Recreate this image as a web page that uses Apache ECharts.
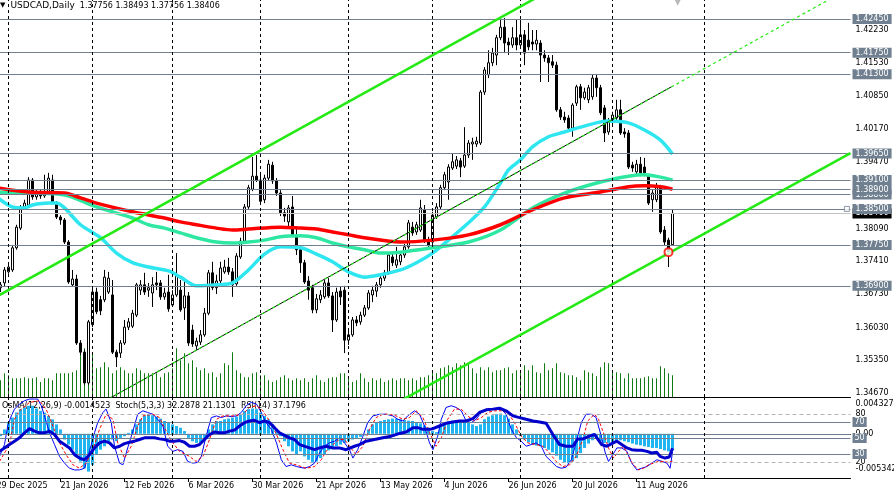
<!DOCTYPE html>
<html>
<head>
<meta charset="utf-8">
<script src="https://cdn.jsdelivr.net/npm/echarts@6/dist/echarts.min.js"></script>
<style>
  html, body { margin: 0; padding: 0; background: #fff; }
  #chart { width: 894px; height: 496px; }
</style>
</head>
<body>
<div id="chart"></div>
<script>
const FONT = 'DejaVu Sans';
const LEVEL = '#708090';
const SLOTS = 214; // daily slots incl. empty future area

// x axis labels, one every 16 trading days starting 29 Dec 2025
const dateLabels = ['29 Dec 2025', '21 Jan 2026', '12 Feb 2026', '6 Mar 2026', '30 Mar 2026', '21 Apr 2026',
  '13 May 2026', '4 Jun 2026', '26 Jun 2026', '20 Jul 2026', '11 Aug 2026'];
// first trading day of each month (slot index)
const monthStarts = [3, 24, 44, 66, 88, 109, 131, 154, 177];

// [open, close, low, high]
const candles = [
  [1.3681,1.3686,1.3675,1.3694],[1.3686,1.3692,1.3677,1.3698],[1.3696,1.3723,1.3688,1.3729],[1.3719,1.3729,1.3715,1.3735],
  [1.3723,1.3769,1.3719,1.3775],[1.3769,1.3812,1.3765,1.3817],[1.3810,1.3854,1.3806,1.3858],[1.3854,1.3862,1.3848,1.3869],
  [1.3858,1.3910,1.3854,1.3916],[1.3910,1.3875,1.3869,1.3914],[1.3875,1.3881,1.3869,1.3889],[1.3881,1.3877,1.3871,1.3889],
  [1.3877,1.3883,1.3873,1.3921],[1.3883,1.3914,1.3879,1.3925],[1.3910,1.3864,1.3860,1.3921],[1.3862,1.3833,1.3829,1.3866],
  [1.3833,1.3827,1.3817,1.3837],[1.3827,1.3781,1.3777,1.3831],[1.3781,1.3698,1.3694,1.3785],[1.3692,1.3704,1.3688,1.3723],
  [1.3704,1.3571,1.3567,1.3713],[1.3571,1.3552,1.3546,1.3577],[1.3552,1.3488,1.3484,1.3557],[1.3488,1.3615,1.3484,1.3619],
  [1.3609,1.3677,1.3604,1.3686],[1.3677,1.3636,1.3631,1.3686],[1.3661,1.3638,1.3629,1.3669],[1.3661,1.3708,1.3656,1.3723],
  [1.3677,1.3706,1.3673,1.3719],[1.3671,1.3552,1.3548,1.3702],[1.3552,1.3542,1.3521,1.3557],[1.3550,1.3571,1.3540,1.3577],
  [1.3571,1.3604,1.3567,1.3619],[1.3604,1.3615,1.3598,1.3623],[1.3606,1.3633,1.3602,1.3640],[1.3629,1.3692,1.3625,1.3696],
  [1.3681,1.3692,1.3671,1.3702],[1.3692,1.3677,1.3671,1.3717],[1.3681,1.3686,1.3667,1.3696],[1.3675,1.3692,1.3646,1.3708],
  [1.3696,1.3692,1.3681,1.3719],[1.3696,1.3667,1.3661,1.3702],[1.3667,1.3675,1.3661,1.3686],[1.3677,1.3642,1.3636,1.3713],
  [1.3650,1.3671,1.3646,1.3681],[1.3671,1.3713,1.3667,1.3758],[1.3681,1.3640,1.3636,1.3702],[1.3644,1.3669,1.3619,1.3706],
  [1.3669,1.3571,1.3565,1.3677],[1.3598,1.3569,1.3563,1.3609],[1.3565,1.3575,1.3557,1.3582],[1.3573,1.3588,1.3567,1.3598],
  [1.3588,1.3633,1.3584,1.3644],[1.3633,1.3717,1.3629,1.3723],[1.3717,1.3686,1.3681,1.3740],[1.3686,1.3700,1.3673,1.3713],
  [1.3700,1.3727,1.3694,1.3740],[1.3719,1.3729,1.3715,1.3744],[1.3729,1.3719,1.3713,1.3748],[1.3719,1.3692,1.3667,1.3727],
  [1.3694,1.3752,1.3690,1.3758],[1.3750,1.3783,1.3746,1.3790],[1.3783,1.3854,1.3779,1.3860],[1.3854,1.3894,1.3850,1.3900],
  [1.3891,1.3918,1.3887,1.3958],[1.3918,1.3910,1.3906,1.3962],[1.3910,1.3866,1.3860,1.3927],[1.3869,1.3914,1.3862,1.3921],
  [1.3914,1.3943,1.3910,1.3952],[1.3941,1.3908,1.3902,1.3948],[1.3908,1.3883,1.3877,1.3914],[1.3883,1.3842,1.3835,1.3889],
  [1.3842,1.3835,1.3823,1.3852],[1.3823,1.3852,1.3814,1.3858],[1.3854,1.3796,1.3792,1.3877],[1.3792,1.3765,1.3754,1.3814],
  [1.3765,1.3738,1.3717,1.3771],[1.3738,1.3698,1.3694,1.3744],[1.3700,1.3681,1.3661,1.3710],[1.3686,1.3640,1.3633,1.3692],
  [1.3640,1.3663,1.3633,1.3673],[1.3661,1.3671,1.3654,1.3681],[1.3667,1.3696,1.3663,1.3702],[1.3696,1.3669,1.3665,1.3706],
  [1.3669,1.3619,1.3594,1.3677],[1.3619,1.3677,1.3615,1.3686],[1.3679,1.3667,1.3650,1.3688],[1.3681,1.3577,1.3550,1.3690],
  [1.3577,1.3588,1.3567,1.3598],[1.3588,1.3619,1.3584,1.3625],[1.3619,1.3613,1.3606,1.3627],[1.3615,1.3629,1.3609,1.3636],
  [1.3629,1.3644,1.3625,1.3650],[1.3644,1.3675,1.3640,1.3681],[1.3671,1.3681,1.3656,1.3690],[1.3679,1.3692,1.3667,1.3698],
  [1.3692,1.3706,1.3686,1.3713],[1.3706,1.3717,1.3700,1.3723],[1.3717,1.3754,1.3713,1.3760],[1.3750,1.3738,1.3731,1.3758],
  [1.3733,1.3744,1.3727,1.3771],[1.3740,1.3754,1.3733,1.3762],[1.3754,1.3771,1.3748,1.3777],[1.3771,1.3821,1.3767,1.3827],
  [1.3812,1.3800,1.3794,1.3823],[1.3802,1.3817,1.3796,1.3823],[1.3806,1.3852,1.3802,1.3869],[1.3848,1.3785,1.3779,1.3858],
  [1.3785,1.3775,1.3769,1.3792],[1.3781,1.3837,1.3777,1.3844],[1.3833,1.3854,1.3829,1.3862],[1.3854,1.3894,1.3848,1.3900],
  [1.3894,1.3921,1.3889,1.3927],[1.3906,1.3937,1.3869,1.3943],[1.3935,1.3948,1.3931,1.3966],[1.3939,1.3952,1.3933,1.3960],
  [1.3950,1.3937,1.3916,1.3956],[1.3939,1.3962,1.3935,1.4020],[1.3962,1.3987,1.3956,1.3993],[1.3985,1.3989,1.3952,1.3998],
  [1.3985,1.3991,1.3979,1.4000],[1.3987,1.4093,1.3983,1.4097],[1.4093,1.4139,1.4087,1.4145],[1.4129,1.4154,1.4122,1.4180],
  [1.4154,1.4174,1.4147,1.4185],[1.4170,1.4206,1.4149,1.4212],[1.4206,1.4228,1.4201,1.4243],[1.4228,1.4195,1.4174,1.4247],
  [1.4197,1.4191,1.4170,1.4206],[1.4191,1.4206,1.4185,1.4228],[1.4206,1.4191,1.4180,1.4243],[1.4191,1.4212,1.4185,1.4243],
  [1.4212,1.4174,1.4149,1.4222],[1.4201,1.4187,1.4180,1.4237],[1.4197,1.4193,1.4180,1.4222],[1.4193,1.4201,1.4180,1.4222],
  [1.4195,1.4170,1.4114,1.4201],[1.4170,1.4164,1.4156,1.4180],[1.4164,1.4154,1.4114,1.4170],[1.4156,1.4149,1.4143,1.4170],
  [1.4149,1.4056,1.4052,1.4156],[1.4056,1.4041,1.4035,1.4062],[1.4041,1.4035,1.4029,1.4052],[1.4039,1.4018,1.4010,1.4045],
  [1.4018,1.4066,1.4000,1.4070],[1.4070,1.4104,1.4064,1.4108],[1.4104,1.4081,1.4056,1.4110],[1.4081,1.4093,1.4077,1.4102],
  [1.4077,1.4102,1.4070,1.4108],[1.4083,1.4122,1.4077,1.4129],[1.4122,1.4102,1.4083,1.4129],[1.4102,1.4050,1.4045,1.4108],
  [1.4060,1.4008,1.3989,1.4066],[1.4010,1.4031,1.4004,1.4039],[1.4031,1.4045,1.4025,1.4052],[1.4039,1.4056,1.4035,1.4077],
  [1.4056,1.4008,1.4004,1.4077],[1.4010,1.4006,1.3998,1.4018],[1.4008,1.3937,1.3933,1.4014],[1.3941,1.3935,1.3927,1.3948],
  [1.3927,1.3943,1.3918,1.3952],[1.3943,1.3925,1.3918,1.3958],[1.3937,1.3925,1.3918,1.3956],[1.3918,1.3862,1.3858,1.3923],
  [1.3869,1.3883,1.3844,1.3889],[1.3869,1.3896,1.3864,1.3904],[1.3894,1.3802,1.3798,1.3900],[1.3806,1.3781,1.3775,1.3814],
  [1.3785,1.3760,1.3729,1.3790],[1.37756,1.38406,1.37756,1.38493]
];

// tick volume, arbitrary units
const volumes = [18,17,24,22,19,19,19,20,19,19,20,15,19,19,17,24,24,24,24,25,27,45,49,45,44,29,30,35,30,24,
  27,30,27,24,24,29,27,24,24,24,24,20,24,25,29,49,37,44,34,37,30,27,29,24,25,20,24,34,32,45,
  27,24,20,20,24,25,22,22,17,15,17,20,22,19,17,19,17,19,15,19,22,17,15,19,20,20,24,24,20,15,
  17,24,19,15,19,17,19,15,17,19,17,19,19,17,19,17,20,20,22,27,24,29,30,32,30,34,32,35,34,29,
  24,30,27,30,25,27,27,29,30,24,27,25,32,27,32,25,24,34,27,29,34,25,24,22,22,20,17,27,25,24,
  21,30,35,34,27,25,24,19,24,19,19,19,20,21,19,19,31,29,24,22];

// moving averages read at [slot, price]
const maCyan = [[0,1.3875],[4,1.3854],[7,1.3852],[9,1.3858],[13,1.3862],[15,1.3862],[17,1.3852],[21,1.3817],[26,1.3790],
  [30,1.3758],[34,1.3738],[38,1.3729],[43,1.3721],[46,1.3708],[50,1.3690],[55,1.3692],[59,1.3696],[63,1.3723],[67,1.3756],
  [71,1.3771],[76,1.3769],[80,1.3756],[84,1.3740],[88,1.3719],[92,1.3708],[96,1.3713],[101,1.3723],[105,1.3738],[109,1.3758],
  [113,1.3785],[118,1.3821],[122,1.3854],[126,1.3904],[128,1.3931],[131,1.3952],[134,1.3979],[138,1.4000],[142,1.4010],
  [146,1.4020],[151,1.4031],[153,1.4033],[158,1.4029],[162,1.4014],[166,1.3993],[169,1.3964]];
const maGreen = [[0,1.3885],[8,1.3883],[17,1.3879],[25,1.3854],[34,1.3831],[38,1.3817],[42,1.3810],[46,1.3800],[50,1.3790],
  [55,1.3781],[59,1.3779],[63,1.3781],[67,1.3785],[71,1.3792],[76,1.3794],[80,1.3790],[84,1.3779],[88,1.3771],[92,1.3765],
  [96,1.3758],[101,1.3760],[109,1.3769],[118,1.3781],[126,1.3806],[134,1.3852],[142,1.3883],[151,1.3906],[158,1.3918],
  [162,1.3921],[166,1.3916],[169,1.3910]];
const maRed = [[0,1.3894],[8,1.3885],[17,1.3883],[21,1.3873],[25,1.3862],[34,1.3844],[42,1.3831],[46,1.3823],[50,1.3817],
  [55,1.3810],[59,1.3806],[63,1.3808],[71,1.3812],[76,1.3810],[80,1.3808],[84,1.3802],[88,1.3796],[92,1.3790],[101,1.3781],
  [109,1.3785],[118,1.3796],[126,1.3817],[134,1.3848],[142,1.3873],[151,1.3885],[158,1.3896],[162,1.3898],[166,1.3896],[169,1.3891]];

// drawn objects
const levels = [1.4245, 1.4175, 1.4130, 1.3965, 1.3910, 1.3880, 1.3890, 1.3850, 1.3775, 1.3690];
const bidPrice = 1.38406;
const upperChannel = [[-0.5, 1.3665], [136, 1.4294]];
const lowerChannel = [[100, 1.3446], [213.5, 1.3966]];
const midLine = [[27, 1.3450], [168.75, 1.4104]];
const midLineExt = [[27, 1.3450], [210, 1.4294]];
const alertMark = [[168, 1.3760]];
const priceAlert = [[212.6, 1.3850]];
const shiftMark = [[170.3, 1.4281]];
const priceTicks = [1.4223, 1.4153, 1.4085, 1.4017, 1.3947, 1.3877, 1.3809, 1.3741, 1.3673, 1.3603, 1.3535, 1.3467];

// oscillators
const osma = [-0.00029,-0.00029,0.00053,0.00135,0.00196,0.00257,0.00298,0.00318,0.00339,0.00339,0.00306,0.00277,0.00257,
  0.00216,0.00175,0.00114,0.00053,-0.00069,-0.00131,-0.00192,-0.00253,-0.00335,-0.00416,-0.00457,-0.00375,-0.00253,
  -0.00192,-0.00151,-0.00090,-0.00069,-0.00090,-0.00049,-0.00029,0.00012,0.00053,0.00114,0.00175,0.00216,0.00237,
  0.00224,0.00208,0.00184,0.00155,0.00135,0.00114,0.00094,0.00073,0.00033,-0.00049,-0.00090,-0.00110,-0.00110,-0.00069,
  0.00053,0.00114,0.00155,0.00155,0.00175,0.00184,0.00196,0.00208,0.00237,0.00277,0.00298,0.00306,0.00298,0.00257,
  0.00216,0.00175,0.00114,0.00053,-0.00029,-0.00090,-0.00151,-0.00212,-0.00253,-0.00212,-0.00273,-0.00314,-0.00355,
  -0.00335,-0.00294,-0.00253,-0.00200,-0.00171,-0.00151,-0.00131,-0.00110,-0.00090,-0.00069,-0.00049,-0.00037,-0.00020,
  0.00053,0.00114,0.00143,0.00155,0.00167,0.00175,0.00184,0.00184,0.00175,0.00167,0.00159,0.00155,0.00143,0.00126,
  0.00102,0.00073,0.00033,0.00020,0.00094,0.00135,0.00151,0.00159,0.00167,0.00159,0.00151,0.00135,0.00114,0.00094,
  0.00114,0.00175,0.00208,0.00224,0.00237,0.00245,0.00224,0.00184,0.00114,0.00053,-0.00029,-0.00069,-0.00102,-0.00131,
  -0.00143,-0.00151,-0.00171,-0.00192,-0.00224,-0.00265,-0.00314,-0.00347,-0.00355,-0.00335,-0.00294,-0.00233,-0.00171,
  -0.00118,-0.00078,-0.00037,-0.00090,-0.00110,-0.00110,-0.00102,-0.00090,-0.00078,-0.00090,-0.00102,-0.00118,-0.00131,
  -0.00139,-0.00151,-0.00159,-0.00171,-0.00171,-0.00184,-0.00200,-0.00212,-0.00200];

const stochMain = [[0.75,27.0],[2,41.8],[2.8,65.0],[3.7,77.6],[4.5,86.1],[5.75,92.4],[7,96.6],[8.25,98.7],[9.5,98.7],
  [10.3,98.7],[11.2,90.3],[12,77.6],[13.25,56.5],[14.5,41.8],[15.75,27.0],[17,18.6],[18.25,12.2],[19.5,10.1],[20.75,10.1],
  [22,12.2],[23.25,33.3],[24.5,56.5],[25.3,69.2],[26.6,81.9],[27.4,86.1],[28.7,69.2],[29.5,39.7],[30.75,18.6],[31.6,16.5],
  [32.8,37.6],[34.1,58.6],[35.3,79.7],[36.6,84.0],[37.8,81.9],[39.1,79.7],[40.3,73.4],[41.6,65.0],[42.8,39.7],[44.1,33.3],
  [45.3,35.4],[46.6,33.3],[47.8,20.7],[49.1,18.6],[50.3,19.4],[51.2,27.0],[52.4,52.3],[53.7,75.5],[55,77.6],[56.2,75.5],
  [57.4,77.6],[58.7,76.8],[60,77.6],[61.2,81.9],[62.4,90.3],[63.7,94.5],[65,92.4],[66.2,81.9],[67.4,69.2],[68.7,60.8],
  [70,43.9],[71.2,22.8],[72.4,14.3],[73.7,16.5],[75,14.3],[77,12.2],[78.25,14.3],[79.5,18.6],[80.75,31.2],[82,39.7],
  [83.25,43.9],[84.5,46.0],[85.75,50.2],[87,43.9],[88.25,35.4],[89.1,24.9],[90.3,35.4],[91.6,52.3],[92.8,69.2],[94.1,77.6],
  [95.75,79.7],[97.4,79.7],[99.1,77.6],[100.3,73.4],[101.6,71.3],[102.8,77.6],[104.5,84.0],[105.75,79.7],[107,65.0],
  [108.25,43.9],[109.1,35.4],[110.3,52.3],[111.2,73.4],[112.4,88.2],[113.7,90.3],[114.9,88.2],[116.2,84.0],[117.4,71.3],
  [118.7,69.2],[119.9,73.4],[121.2,81.9],[122.4,84.0],[123.7,86.1],[124.9,86.9],[126.2,86.1],[127.4,79.7],[128.7,60.8],
  [130,50.2],[131.2,46.0],[132.4,39.7],[133.7,41.8],[134.9,43.9],[136.2,39.7],[137.4,27.0],[138.7,20.7],[140,14.3],
  [141.2,12.2],[142.4,13.5],[143.7,22.8],[144.9,43.9],[146.2,69.2],[147.4,79.7],[148.7,79.7],[149.9,75.5],[151.3,50.2],
  [152.2,31.2],[153,20.7],[153.8,27.0],[155.1,37.6],[156.3,37.6],[157.6,33.3],[158.8,18.6],[160.1,10.1],[161.3,12.2],
  [162.6,14.3],[163.8,18.6],[165.1,22.8],[166.4,20.7],[167.6,18.6],[168.4,12.2],[169,32.29]];
const stochSignal = [[0.75,20.7],[3.25,41.8],[4.5,73.4],[5.75,84.0],[8.25,94.5],[10.75,96.6],[12.4,86.1],[14.1,65.0],
  [15.75,43.9],[17.4,29.1],[19.1,16.5],[20.75,12.2],[22.4,18.6],[24.1,35.4],[25.75,60.8],[27.4,79.7],[29.1,73.4],[30.3,43.9],
  [32,24.9],[33.7,39.7],[35.3,65.0],[36.6,77.6],[39.1,79.7],[40.75,75.5],[42.4,58.6],[44.1,43.9],[45.75,33.3],[48.25,27.0],
  [49.9,20.7],[51.6,27.0],[53.25,48.1],[55,73.4],[56.6,77.6],[59.1,77.6],[61.6,79.7],[63.25,88.2],[65,90.3],[66.6,84.0],
  [68.25,71.3],[70,54.4],[71.6,35.4],[73.25,18.6],[74.9,16.5],[77.4,12.2],[79.5,14.3],[81.2,22.8],[82.4,33.3],[84.1,41.8],
  [85.75,48.1],[87,48.1],[88.25,39.7],[89.9,29.1],[91.6,39.7],[93.25,60.8],[94.9,75.5],[96.6,79.7],[98.25,79.7],[99.9,77.6],
  [101.6,73.4],[103.25,75.5],[104.9,84.0],[106.6,75.5],[108.25,56.5],[109.9,39.7],[111.2,50.2],[112.8,73.4],[114.5,86.1],
  [116.2,86.1],[117.8,77.6],[119.5,71.3],[121.2,75.5],[122.8,81.9],[124.5,84.0],[126.2,84.0],[127.8,81.9],[129.5,69.2],
  [131.2,52.3],[132.8,43.9],[134.9,41.8],[136.6,39.7],[138.25,31.2],[139.9,20.7],[141.6,14.3],[143.25,16.5],[144.9,27.0],
  [146.6,48.1],[147.8,71.3],[149.5,79.7],[150.5,73.4],[151.75,56.5],[153,37.6],[154.25,24.9],[155.5,33.3],[156.75,39.7],
  [158,27.0],[159.25,16.5],[160.5,10.1],[161.75,12.2],[163,16.5],[164.25,18.6],[165.5,20.7],[166.75,20.7],[168,19.4],[169,21.13]];
const rsi = [[0.75,33.3],[2,37.6],[3.25,41.8],[4.5,46.0],[5.75,50.2],[7,56.5],[8.25,61.6],[9.5,58.6],[10.75,56.5],[12,56.5],
  [13.25,58.6],[14.5,54.4],[15.75,46.0],[17,41.8],[18.25,37.6],[19.5,29.1],[20.75,24.9],[22,22.8],[23.25,29.1],[24.5,37.6],
  [25.75,43.9],[27,46.0],[28.25,43.9],[29.5,37.6],[30.75,39.7],[32,43.0],[33.25,44.7],[34.5,46.0],[35.75,48.1],[37,50.2],
  [38.25,50.2],[39.5,50.2],[40.75,48.9],[42,48.1],[43.25,46.0],[44.5,46.0],[45.75,46.8],[47,44.7],[48.25,39.7],[49.5,39.7],
  [50.75,41.8],[52,48.1],[53.25,54.4],[54.5,57.4],[55.75,56.5],[57,56.5],[58.25,58.6],[59.5,59.9],[60.75,65.0],[62,69.2],
  [63.25,71.3],[64.5,72.2],[65.75,69.2],[67,71.3],[68.25,69.2],[69.5,62.9],[70.75,56.5],[72,53.2],[73.25,50.2],[74.5,48.1],
  [75.75,41.8],[78.25,37.6],[79.5,35.4],[80.75,37.6],[82.4,39.7],[84.1,37.6],[85.75,37.6],[87.4,35.4],[89.5,39.7],
  [90.75,41.8],[92.4,46.0],[94.5,48.1],[96.6,50.2],[98.7,52.3],[100.75,55.7],[102.4,57.4],[104.1,62.9],[105.3,62.9],
  [106.6,60.8],[108.25,60.8],[109.1,61.6],[110.75,65.0],[112.4,68.4],[114.1,70.0],[115.75,71.3],[117.4,71.3],[119.1,74.3],
  [120.75,81.9],[122.4,85.2],[124.1,86.1],[125.75,87.3],[127.4,84.0],[129.1,77.6],[130.75,75.5],[132.4,73.4],[134.1,71.3],
  [135.75,70.0],[137.4,68.4],[139.1,54.4],[140.75,41.8],[142.4,39.7],[144.1,39.7],[145.3,48.9],[146.6,48.9],[148.25,52.3],
  [149.5,54.4],[150.1,50.2],[151.3,41.8],[152.6,39.7],[153.8,43.0],[155.1,46.0],[156.3,41.8],[157.6,37.6],[158.8,35.4],
  [160.1,34.6],[161.3,34.6],[162.6,33.3],[163.8,31.2],[165.1,32.1],[165.9,27.0],[167.1,24.9],[168.2,26.2],[169,37.18]];
const oscLevels = [80, 70, 50, 30, 20];
const osmaTicks = [0.0043278, 0, -0.005342];

const slots = Array.from({ length: SLOTS }, (_, i) => String(i));
const last = candles[candles.length - 1];
const header = [last[0], last[3], last[2], last[1]].map(v => v.toFixed(5)).join(' ');
const txt = { fontFamily: FONT, fontSize: 8, color: '#000' };

const chart = echarts.init(document.getElementById('chart'));

const monthLines = monthStarts.map(k => ({
  xAxis: k, lineStyle: { color: '#000', type: [3, 3], width: 1 }, label: { show: false }
}));

chart.setOption({
  animation: false,
  backgroundColor: '#fff',
  textStyle: { fontFamily: FONT },
  title: [{
    left: 0, top: 1, padding: 0, z: 1,
    text: '{t|▼}  {n|USDCAD,Daily}  ' + header,
    textStyle: Object.assign({}, txt, { fontWeight: 'normal', rich: { t: { fontSize: 7 }, n: { fontSize: 9 } } })
  }, {
    left: 2, top: 402, padding: 0, z: 1,
    text: 'OsMA(12,26,9) -0.0014523  Stoch(5,3,3) 32.2878 21.1301  RSI(14) 37.1796',
    textStyle: Object.assign({}, txt, { fontWeight: 'normal' })
  }],
  grid: [
    { left: -5.5, top: 0, width: 856, height: 397, containLabel: false, outerBoundsMode: 'none' },
    { left: -5.5, top: 398, width: 856, height: 80, containLabel: false, outerBoundsMode: 'none' }
  ],
  xAxis: [
    { type: 'category', gridIndex: 0, data: slots, boundaryGap: true,
      axisLine: { show: true, lineStyle: { color: '#000' } }, axisTick: { show: false }, axisLabel: { show: false } },
    { type: 'value', gridIndex: 0, min: -0.5, max: SLOTS - 0.5, show: false },
    { type: 'category', gridIndex: 1, data: slots, boundaryGap: true,
      axisLine: { show: true, lineStyle: { color: '#000' } },
      axisTick: { show: true, alignWithLabel: true, length: 4, lineStyle: { color: '#000' },
        interval: i => i % 16 === 0 && i / 16 < dateLabels.length },
      axisLabel: Object.assign({}, txt, { interval: i => i % 16 === 0, align: 'left', margin: 4,
        formatter: (v, i) => dateLabels[i / 16] || '' }) },
    { type: 'value', gridIndex: 1, min: -0.5, max: SLOTS - 0.5, position: 'top',
      axisLine: { show: true, lineStyle: { color: '#000' } }, axisTick: { show: false },
      axisLabel: { show: false }, splitLine: { show: false } }
  ],
  yAxis: [
    { type: 'value', gridIndex: 0, position: 'right', min: 1.34587, max: 1.42845,
      axisLine: { show: true, lineStyle: { color: '#000' } },
      axisTick: { show: true, length: 3, customValues: priceTicks, lineStyle: { color: '#000' } },
      axisLabel: Object.assign({}, txt, { customValues: priceTicks, margin: 5, formatter: v => v.toFixed(5) }),
      splitLine: { show: false } },
    { type: 'value', gridIndex: 0, min: 0, max: 400, show: false },
    { type: 'value', gridIndex: 1, position: 'right', min: 0, max: 100,
      axisLine: { show: true, lineStyle: { color: '#000' } },
      axisTick: { show: true, length: 3, customValues: [80, 20], lineStyle: { color: '#000' } },
      axisLabel: Object.assign({}, txt, { customValues: [80, 20], margin: 5 }),
      splitLine: { show: false } },
    { type: 'value', gridIndex: 1, position: 'right', min: -0.005342, max: 0.0043278,
      axisLine: { show: false }, axisTick: { show: false }, splitLine: { show: false },
      axisLabel: Object.assign({}, txt, { customValues: osmaTicks, margin: 5,
        formatter: v => v > 0 ? '{top|' + v.toFixed(7) + '}' : (v < 0 ? '{bot|' + v.toFixed(6) + '}' : '0.00'),
        rich: { top: { padding: [12, 0, 0, 0] }, bot: { padding: [0, 0, 18, 0] } } }) }
  ],
  series: [
    { name: 'Volume', type: 'bar', xAxisIndex: 0, yAxisIndex: 1, data: volumes, barWidth: 1,
      itemStyle: { color: '#127a12' }, silent: true, z: 1 },
    { name: 'USDCAD', type: 'candlestick', xAxisIndex: 0, yAxisIndex: 0, data: candles, barWidth: 3, silent: true, z: 3,
      itemStyle: { color: '#fff', color0: '#000', borderColor: '#000', borderColor0: '#000', borderWidth: 1 },
      markLine: {
        symbol: ['none', 'none'], silent: true, precision: 5,
        lineStyle: { color: LEVEL, width: 1, type: 'solid' },
        label: Object.assign({}, txt, { position: 'end', distance: 2, color: '#fff', backgroundColor: LEVEL,
          padding: [1, 3, 0, 3], lineHeight: 9, formatter: p => Number(p.value).toFixed(5) }),
        data: levels.slice(0, 7).map(v => ({ yAxis: v }))
          .concat([{ yAxis: bidPrice, lineStyle: { color: '#c4c4c4', width: 1 }, label: { backgroundColor: '#000' } }])
          .concat(levels.slice(7).map(v => ({ yAxis: v })))
      } },
    { name: 'MA cyan', type: 'line', xAxisIndex: 1, yAxisIndex: 0, data: maCyan, smooth: 0.3, showSymbol: false,
      lineStyle: { color: '#2ee6f0', width: 3.5 }, silent: true, z: 4 },
    { name: 'MA green', type: 'line', xAxisIndex: 1, yAxisIndex: 0, data: maGreen, smooth: 0.3, showSymbol: false,
      lineStyle: { color: '#2ee8a2', width: 3.5 }, silent: true, z: 4 },
    { name: 'MA red', type: 'line', xAxisIndex: 1, yAxisIndex: 0, data: maRed, smooth: 0.3, showSymbol: false,
      lineStyle: { color: '#ff0000', width: 3.5 }, silent: true, z: 4 },
    { name: 'Upper channel', type: 'line', xAxisIndex: 1, yAxisIndex: 0, data: upperChannel, showSymbol: false,
      lineStyle: { color: '#22ea12', width: 2.5 }, silent: true, z: 5 },
    { name: 'Lower channel', type: 'line', xAxisIndex: 1, yAxisIndex: 0, data: lowerChannel, showSymbol: false,
      lineStyle: { color: '#22ea12', width: 2.5 }, silent: true, z: 5 },
    { name: 'Mid line', type: 'line', xAxisIndex: 1, yAxisIndex: 0, data: midLine, showSymbol: false,
      lineStyle: { color: '#000', width: 1 }, silent: true, z: 5,
      markLine: { symbol: ['none', 'none'], silent: true, data: monthLines } },
    { name: 'Mid line ext', type: 'line', xAxisIndex: 1, yAxisIndex: 0, data: midLineExt, showSymbol: false,
      lineStyle: { color: '#22ea12', width: 1.2, type: [3, 3] }, silent: true, z: 5 },
    { name: 'Alert', type: 'scatter', xAxisIndex: 1, yAxisIndex: 0, data: alertMark, symbol: 'emptyCircle', symbolSize: 8,
      itemStyle: { color: '#ff0000', borderWidth: 1 }, silent: true, z: 6 },
    { name: 'Price alert', type: 'scatter', xAxisIndex: 1, yAxisIndex: 0, data: priceAlert, symbol: 'rect', symbolSize: 5,
      itemStyle: { color: '#fff', borderColor: LEVEL, borderWidth: 1 }, silent: true, z: 6 },
    { name: 'Shift', type: 'scatter', xAxisIndex: 1, yAxisIndex: 0, data: shiftMark, symbol: 'triangle', symbolRotate: 180,
      symbolSize: 8, itemStyle: { color: '#a8a8a8' }, silent: true, z: 6 },
    { name: 'OsMA', type: 'bar', xAxisIndex: 2, yAxisIndex: 3, data: osma, barWidth: 3,
      itemStyle: { color: '#20b4f0' }, silent: true, z: 2,
      markLine: { symbol: ['none', 'none'], silent: true, label: { show: false },
        lineStyle: { color: LEVEL, width: 1, type: 'solid' }, data: [{ yAxis: 0 }] } },
    { name: 'Stoch', type: 'line', xAxisIndex: 3, yAxisIndex: 2, data: stochMain, showSymbol: false,
      lineStyle: { color: '#0000ff', width: 1 }, silent: true, z: 4,
      markLine: {
        symbol: ['none', 'none'], silent: true,
        label: Object.assign({}, txt, { position: 'end', distance: 2, color: '#fff', backgroundColor: LEVEL,
          padding: [1, 2, 0, 2], lineHeight: 9, formatter: p => String(p.value) }),
        data: oscLevels.map(v => (v === 80 || v === 20)
          ? { yAxis: v, lineStyle: { color: '#b4b4b4', width: 1, type: [4, 3] }, label: { show: false } }
          : { yAxis: v, lineStyle: { color: LEVEL, width: 1, type: 'solid' } }).concat(monthLines)
      } },
    { name: 'Signal', type: 'line', xAxisIndex: 3, yAxisIndex: 2, data: stochSignal, showSymbol: false,
      lineStyle: { color: '#ff0000', width: 1, type: [3, 2] }, silent: true, z: 4 },
    { name: 'RSI', type: 'line', xAxisIndex: 3, yAxisIndex: 2, data: rsi, showSymbol: false,
      lineStyle: { color: '#0000cc', width: 3 }, silent: true, z: 5 }
  ]
});
</script>
</body>
</html>
